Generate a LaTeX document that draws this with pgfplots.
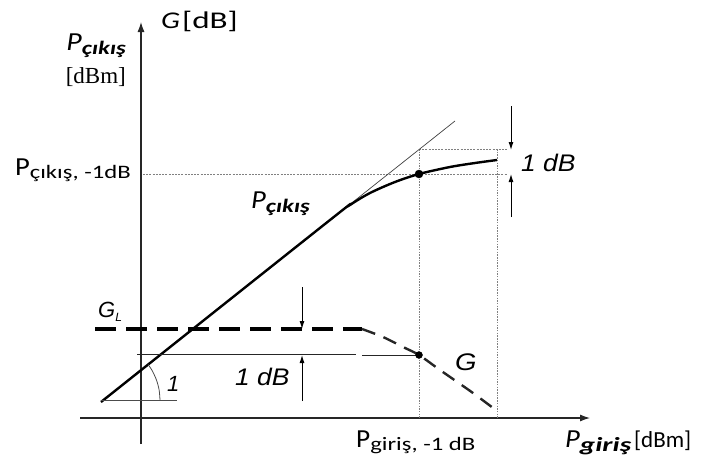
\documentclass[border=0pt]{standalone}
\usepackage{graphicx}
\usepackage{pgfplots}
\pgfplotsset{compat=1.18}
\usetikzlibrary{arrows.meta}
\usepackage{fontspec}
\setmainfont{Carlito}
\newfontfamily\arialf{Liberation Sans}
\newfontfamily\seriff{Liberation Serif}
\newcommand\hs[2]{\scalebox{#1}[1]{#2}}
\begin{document}
\begin{tikzpicture}
\begin{axis}[x=1pt,y=1pt,y dir=reverse,xmin=0,xmax=705,ymin=0,ymax=463,hide axis,clip=false]
\path (axis cs:0,0) rectangle (axis cs:705,463);
% axes
\addplot[black!85,line width=1.1pt,-{Latex[length=10pt,width=7pt]}] coordinates {(141,444) (141,22)};
\addplot[black!85,line width=1.1pt,-{Latex[length=10pt,width=7pt]}] coordinates {(80,418) (590,418)};
% dotted guides
\addplot[gray,line width=0.9pt,dash pattern=on 2pt off 1.2pt] coordinates {(143,174) (507,174)};
\addplot[gray,line width=0.9pt,dash pattern=on 2pt off 1.2pt] coordinates {(419,149) (507,149)};
\addplot[gray,line width=0.9pt,dash pattern=on 1.5pt off 1.2pt] coordinates {(419,149) (419,418)};
\addplot[gray,line width=0.9pt,dash pattern=on 1.5pt off 1.2pt] coordinates {(497,149) (497,418)};
% tangent (linear) line
\addplot[black!75,line width=0.7pt] coordinates {(101,402) (455,121)};
% output power curve
\addplot[black,line width=2.4pt,smooth,tension=0.5] coordinates {(101,402) (330,220) (350,205) (370,193) (395,182) (419,174) (450,167) (475,163) (497,160)};
\addplot[black,only marks,mark=*,mark size=4pt] coordinates {(419,174)};
% gain curve
\addplot[black,line width=4pt,dash pattern=on 21pt off 10pt] coordinates {(95,329) (362,329)};
\addplot[black!85,line width=2.4pt,dash pattern=on 14pt off 9pt,smooth,tension=0.5] coordinates {(362,329) (383,337) (403,347) (419,355) (440,370) (473,393) (497,411)};
\addplot[black,only marks,mark=*,mark size=3.5pt] coordinates {(419,355)};
% thin 1 dB line
\addplot[black!85,line width=1pt] coordinates {(137,354) (356,354)};
\addplot[black!85,line width=1pt] coordinates {(362,355) (419,355)};
% angle marker
\addplot[black!70,line width=0.8pt] coordinates {(101,400) (177,400)};
\addplot[black!70,line width=0.8pt,smooth] coordinates {(160,400) (159.1,389.8) (156.4,379.8) (152.1,370.5) (148.1,364.5)};
% 1 dB arrows lower
\addplot[black,line width=1pt,-{Latex[length=8pt,width=5pt]}] coordinates {(302,287) (302,329)};
\addplot[black,line width=1pt,-{Latex[length=8pt,width=5pt]}] coordinates {(302,401) (302,355)};
% 1 dB arrows upper
\addplot[black,line width=1pt,-{Latex[length=8pt,width=5pt]}] coordinates {(511,106) (511,150)};
\addplot[black,line width=1pt,-{Latex[length=8pt,width=5pt]}] coordinates {(511,217) (511,174)};
% labels
\node[anchor=base west,inner sep=0pt] at (axis cs:161,28) {{\fontsize{24}{24}\selectfont\itshape\hs{1.25}{G}}\hspace{2pt}{\fontsize{24}{24}\selectfont\hs{1.38}{[dB]}}};
\node[anchor=base east,inner sep=0pt] at (axis cs:126,50) {{\fontsize{26}{26}\selectfont\itshape\hs{1.15}{P}}{\fontsize{19}{19}\selectfont\bfseries\itshape\raisebox{-4pt}{\hs{1.3}{çıkış}}}};
\node[anchor=base east,inner sep=0pt] at (axis cs:126,83) {\seriff\fontsize{23}{23}\selectfont[dBm]};
\node[anchor=base east,inner sep=0pt] at (axis cs:131,175) {{\fontsize{26}{26}\selectfont\hs{1.1}{P}}{\fontsize{19}{19}\selectfont\raisebox{-3pt}{\hs{1.3}{çıkış, -1dB}}}};
\node[anchor=base west,inner sep=0pt] at (axis cs:251,208) {{\fontsize{26}{26}\selectfont\itshape\hs{1.1}{P}}{\fontsize{19}{19}\selectfont\bfseries\itshape\raisebox{-4pt}{\hs{1.3}{çıkış}}}};
\node[anchor=base west,inner sep=0pt] at (axis cs:521,171) {\arialf\itshape\fontsize{24}{24}\selectfont\hs{1.1}{1 dB}};
\node[anchor=base west,inner sep=0pt] at (axis cs:235,385) {\arialf\itshape\fontsize{24}{24}\selectfont\hs{1.1}{1 dB}};
\node[anchor=base west,inner sep=0pt] at (axis cs:455,370) {\arialf\itshape\fontsize{24}{24}\selectfont\hs{1.15}{G}};
\node[anchor=base west,inner sep=0pt] at (axis cs:98,317) {\arialf\itshape\fontsize{22}{22}\selectfont G\raisebox{-4pt}{\fontsize{12}{12}\selectfont L}};
\node[anchor=base west,inner sep=0pt] at (axis cs:167,391) {\arialf\itshape\fontsize{22}{22}\selectfont 1};
\node[anchor=base west,inner sep=0pt] at (axis cs:356,447) {{\fontsize{26}{26}\selectfont\hs{1.05}{P}}{\fontsize{19}{19}\selectfont\raisebox{-3pt}{\hs{1.3}{giriş, -1 dB}}}};
\node[anchor=base west,inner sep=0pt] at (axis cs:565,447) {{\fontsize{26}{26}\selectfont\itshape\hs{1.1}{P}}{\fontsize{20}{20}\selectfont\bfseries\itshape\raisebox{-4pt}{\hs{1.45}{giriş}}}\hspace{3pt}{\fontsize{23}{23}\selectfont[dBm]}};
\end{axis}
\end{tikzpicture}
\end{document}
